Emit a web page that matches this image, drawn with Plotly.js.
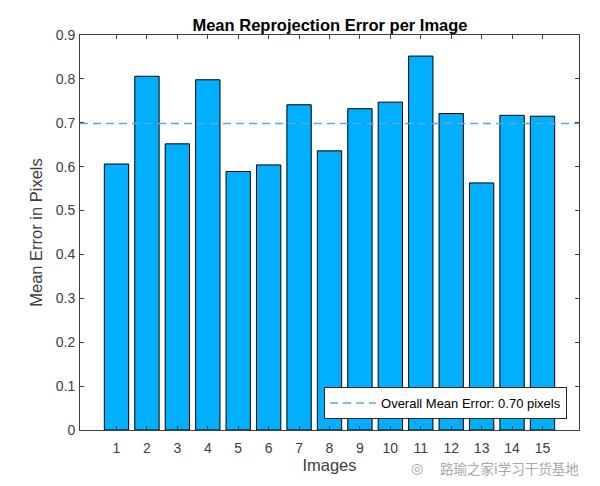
<!DOCTYPE html>
<html>
<head>
<meta charset="utf-8">
<script src="https://cdn.plot.ly/plotly-3.0.1.min.js"></script>
<style>html,body{margin:0;padding:0;background:#fff;}#chart{width:600px;height:486px;}</style>
</head>
<body>
<div id="chart"></div>
<script>
const images = [1,2,3,4,5,6,7,8,9,10,11,12,13,14,15];
const meanErrors = [0.606,0.806,0.652,0.798,0.589,0.604,0.741,0.636,0.732,0.747,0.852,0.721,0.563,0.717,0.715];
const overallMean = meanErrors.reduce((a,b)=>a+b,0)/meanErrors.length;
const xRange = [-0.2, 16.2];
const yTicks = [0,0.1,0.2,0.3,0.4,0.5,0.6,0.7,0.8,0.9];

const axisColor = '#404040';
const fontFam = '"Liberation Sans", Arial, Helvetica, sans-serif';

const traces = [
  {
    type: 'bar', x: images, y: meanErrors, width: 0.8,
    marker: {color: 'rgb(0,176,255)', line: {color: '#000', width: 1}},
    showlegend: false, hoverinfo: 'x+y'
  },
  {
    type: 'scatter', mode: 'lines', x: xRange, y: [overallMean, overallMean],
    line: {color: 'rgb(98,168,226)', width: 1.5, dash: '8px,5px'},
    name: 'Overall Mean Error: ' + overallMean.toFixed(2) + ' pixels'
  }
];

const layout = {
  width: 600, height: 486,
  margin: {l: 80, r: 21, t: 35, b: 56},
  paper_bgcolor: '#fff', plot_bgcolor: '#fff',
  font: {family: fontFam, color: axisColor, size: 14},
  title: {text: '<b>Mean Reprojection Error per Image</b>', x: 0.55, xanchor: 'center', y: 0.948, yanchor: 'middle',
          font: {family: fontFam, size: 16.5, color: '#000'}},
  xaxis: {
    range: xRange, tickvals: images, ticktext: images.map(String),
    ticks: 'inside', ticklen: 4, tickcolor: axisColor,
    showline: true, linecolor: axisColor, linewidth: 1, mirror: 'ticks',
    showgrid: false, zeroline: false, ticklabelstandoff: 5,
    tickfont: {size: 14, color: axisColor},
    title: {text: 'Images', font: {size: 16.5, color: axisColor}, standoff: 4}
  },
  yaxis: {
    range: [0, 0.9], tickvals: yTicks, ticktext: yTicks.map(v => v === 0 ? '0' : v.toFixed(1)),
    ticks: 'inside', ticklen: 4, tickcolor: axisColor,
    showline: true, linecolor: axisColor, linewidth: 1, mirror: 'ticks',
    showgrid: false, zeroline: false, ticklabelstandoff: 1,
    tickfont: {size: 14, color: axisColor},
    title: {text: 'Mean Error in Pixels', font: {size: 16.5, color: axisColor}, standoff: 8}
  },
  legend: {
    x: 0.976, y: 0.028, xanchor: 'right', yanchor: 'bottom',
    bgcolor: '#fff', bordercolor: '#262626', borderwidth: 1,
    font: {size: 13, color: '#000'},
    itemwidth: 46, tracegroupgap: 0
  },
  annotations: [
    {text: '路瑜之家i学习干货基地', xref: 'paper', yref: 'paper', x: 1.003, y: -0.097,
     xanchor: 'right', yanchor: 'middle', showarrow: false, borderpad: 0,
     font: {family: '"Noto Sans CJK SC", sans-serif', size: 13.5, color: '#a8a8a8'}},
    {text: '◎', xref: 'paper', yref: 'paper', x: 0.69, y: -0.097,
     xanchor: 'right', yanchor: 'middle', showarrow: false, borderpad: 0,
     font: {family: '"DejaVu Sans", sans-serif', size: 14, color: '#a8a8a8'}}
  ]
};

Plotly.newPlot('chart', traces, layout, {displayModeBar: false, staticPlot: true});
</script>
</body>
</html>
